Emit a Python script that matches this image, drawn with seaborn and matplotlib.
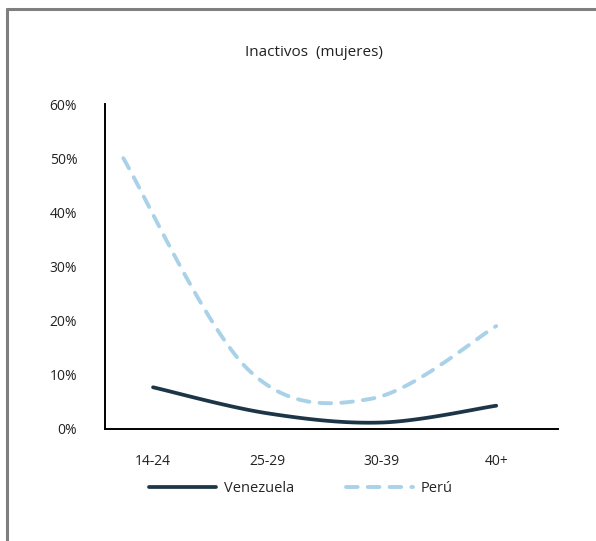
import numpy as np
import pandas as pd
import matplotlib
matplotlib.use('Agg')
import matplotlib.pyplot as plt
import seaborn as sns
from matplotlib.lines import Line2D

# data
categories = ['14-24', '25-29', '30-39', '40+']
venezuela = [7.7, 2.9, 1.2, 4.3]
peru = [50.0, 11.0, 5.6, 19.0]
# Peru series sits slightly shifted on the category axis in the original
peru_x = [-0.26, 0.83, 1.91, 3.0]
yticks = [0, 10, 20, 30, 40, 50, 60]

navy = '#1d3647'
light_blue = '#a9d2e8'


def smooth(x, y, n=40):
    # Catmull-Rom style smoothing like Excel "smoothed line"
    x = np.asarray(x, float)
    y = np.asarray(y, float)
    px = np.concatenate([[x[0]], x, [x[-1]]])
    py = np.concatenate([[y[0]], y, [y[-1]]])
    xs, ys = [], []
    for i in range(1, len(px) - 2):
        t = np.linspace(0, 1, n)
        mx0, mx1 = (px[i + 1] - px[i - 1]) / 2, (px[i + 2] - px[i]) / 2
        my0, my1 = (py[i + 1] - py[i - 1]) / 2, (py[i + 2] - py[i]) / 2
        h00 = 2 * t**3 - 3 * t**2 + 1
        h10 = t**3 - 2 * t**2 + t
        h01 = -2 * t**3 + 3 * t**2
        h11 = t**3 - t**2
        xs.append(h00 * px[i] + h10 * mx0 + h01 * px[i + 1] + h11 * mx1)
        ys.append(h00 * py[i] + h10 * my0 + h01 * py[i + 1] + h11 * my1)
    return np.concatenate(xs), np.concatenate(ys)


vx, vy = smooth(range(len(categories)), venezuela)
px, py = smooth(peru_x, peru)
df_v = pd.DataFrame({'x': vx, 'y': vy})
df_p = pd.DataFrame({'x': px, 'y': py})

sns.set_style('white')
plt.rcParams['font.family'] = ['Open Sans', 'DejaVu Sans']

fig = plt.figure(figsize=(5.96, 5.41), dpi=100)
ax = fig.add_axes([105 / 596, 1 - 429 / 541, (558 - 105) / 596, (429 - 104) / 541])

sns.lineplot(data=df_v, x='x', y='y', sort=False, ax=ax, color=navy,
             linewidth=2.7, solid_capstyle='round', label='Venezuela')
sns.lineplot(data=df_p, x='x', y='y', sort=False, ax=ax, color=light_blue,
             linewidth=2.8, dashes=(3.0, 2.6), dash_capstyle='round', label='Perú')

ax.set_xlim(-0.42, 3.54)
ax.set_ylim(0, 60)
ax.set_xticks(range(len(categories)))
ax.set_xticklabels(categories)
ax.set_yticks(yticks)
ax.set_yticklabels([f'{v}%' for v in yticks])
ax.tick_params(axis='both', length=0, labelsize=10, colors='#222222')
ax.tick_params(axis='x', pad=18)
ax.tick_params(axis='y', pad=20)
ax.set_xlabel('')
ax.set_ylabel('')
for s in ['top', 'right']:
    ax.spines[s].set_visible(False)
for s in ['left', 'bottom']:
    ax.spines[s].set_color('black')
    ax.spines[s].set_linewidth(1.4)

fig.text(0.526, 1 - 52 / 541, 'Inactivos  (mujeres)', ha='center', va='center',
         fontsize=11, color='#222222')

ax.legend_.remove()
handles, labels = ax.get_legend_handles_labels()
fig.legend(handles, labels, loc='center', bbox_to_anchor=(0.505, 1 - 489 / 541),
           ncol=2, frameon=False, fontsize=10.5, handlelength=4.6,
           columnspacing=3.6, handletextpad=0.5)

# gray frame on left and top
fig.add_artist(Line2D([7.5 / 596, 7.5 / 596], [0, 1 - 9 / 541], transform=fig.transFigure,
                      color='#7f7f7f', linewidth=2.2))
fig.add_artist(Line2D([6.5 / 596, 1], [1 - 9 / 541, 1 - 9 / 541], transform=fig.transFigure,
                      color='#7f7f7f', linewidth=2.2))

fig.savefig('out.png', dpi=100, facecolor='white')
